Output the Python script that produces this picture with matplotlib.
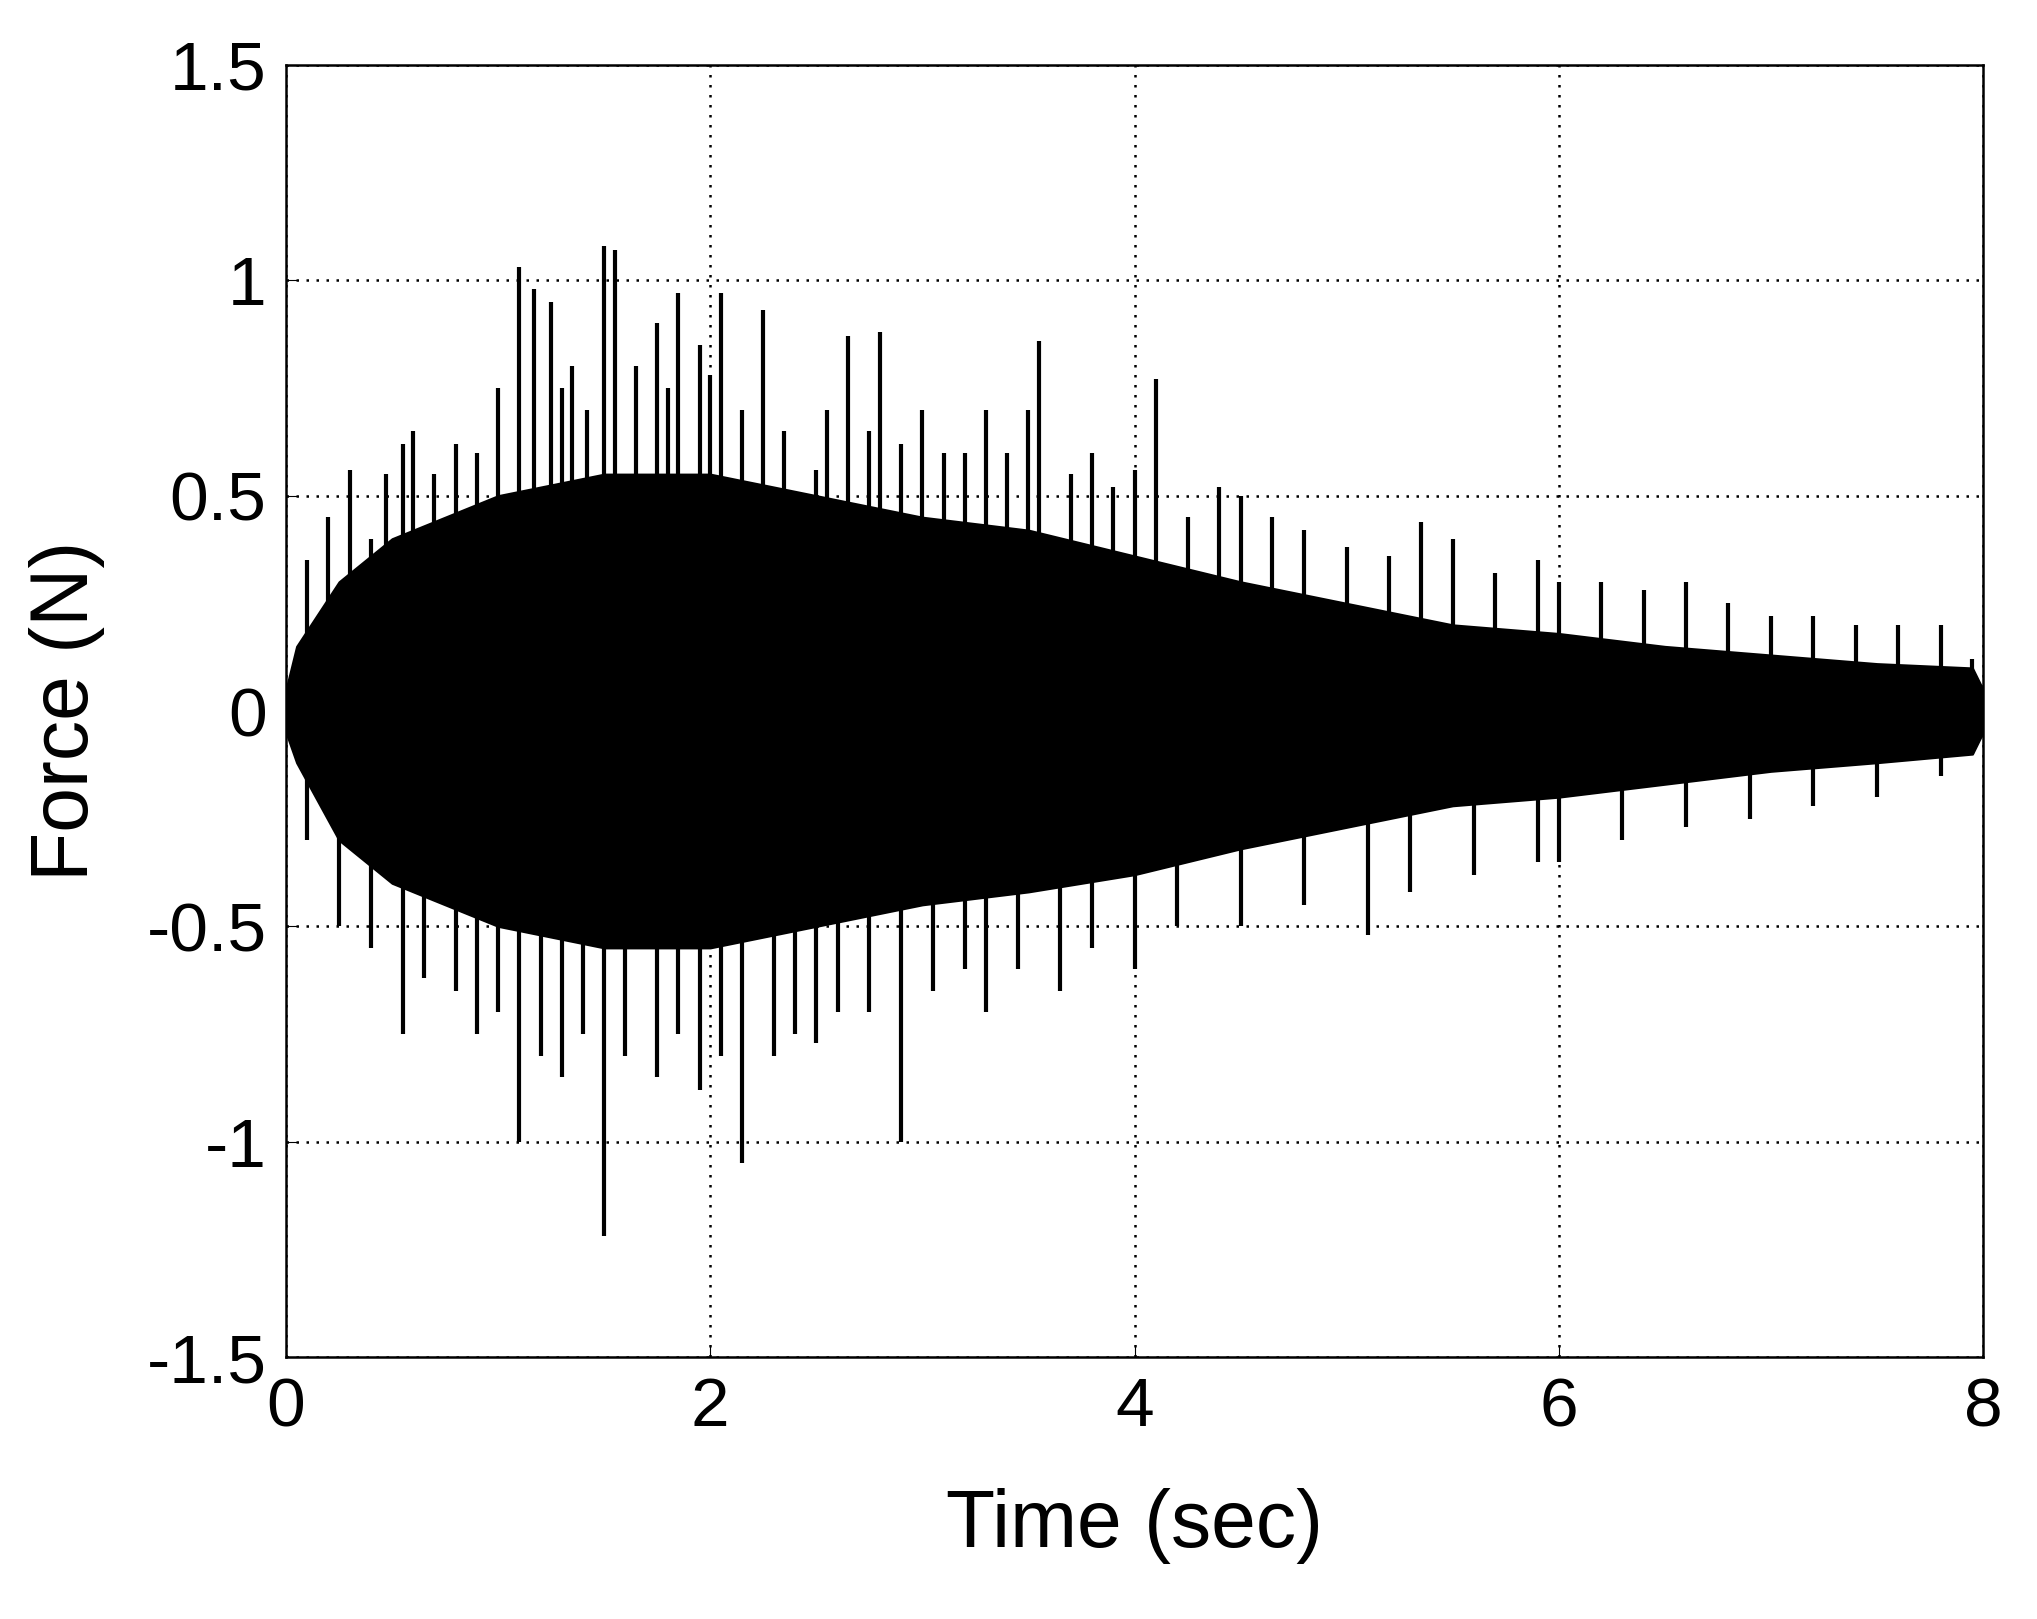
import matplotlib
matplotlib.use("Agg")
import matplotlib.pyplot as plt

plt.rcParams['font.family'] = ['Liberation Sans', 'DejaVu Sans']

# dense body envelope
env_t = [0, 0.05, 0.25, 0.5, 0.75, 1.0, 1.5, 2.0, 2.5, 3.0, 3.5, 4.0, 4.5, 5.0, 5.5, 6.0, 6.5, 7.0, 7.5, 7.95, 8.0]
env_up = [0.05, 0.15, 0.3, 0.4, 0.45, 0.5, 0.55, 0.55, 0.5, 0.45, 0.42, 0.36, 0.3, 0.25, 0.2, 0.18, 0.15, 0.13, 0.11, 0.1, 0.05]
env_lo = [-0.05, -0.12, -0.3, -0.4, -0.45, -0.5, -0.55, -0.55, -0.5, -0.45, -0.42, -0.38, -0.32, -0.27, -0.22, -0.2, -0.17, -0.14, -0.12, -0.1, -0.05]

# individual spikes
up_t = [0.1, 0.2, 0.3, 0.4, 0.47, 0.55, 0.6, 0.7, 0.8, 0.9, 1.0, 1.1, 1.17, 1.25, 1.3, 1.35, 1.42, 1.5, 1.55,
        1.65, 1.75, 1.8, 1.85, 1.95, 2.0, 2.05, 2.15, 2.25, 2.35, 2.5, 2.55, 2.65, 2.75, 2.8, 2.9, 3.0, 3.1,
        3.2, 3.3, 3.4, 3.5, 3.55, 3.7, 3.8, 3.9, 4.0, 4.1, 4.25, 4.4, 4.5, 4.65, 4.8, 5.0, 5.2, 5.35, 5.5,
        5.7, 5.9, 6.0, 6.2, 6.4, 6.6, 6.8, 7.0, 7.2, 7.4, 7.6, 7.8, 7.95]
up_v = [0.35, 0.45, 0.56, 0.4, 0.55, 0.62, 0.65, 0.55, 0.62, 0.6, 0.75, 1.03, 0.98, 0.95, 0.75, 0.8, 0.7, 1.08, 1.07,
        0.8, 0.9, 0.75, 0.97, 0.85, 0.78, 0.97, 0.7, 0.93, 0.65, 0.56, 0.7, 0.87, 0.65, 0.88, 0.62, 0.7, 0.6,
        0.6, 0.7, 0.6, 0.7, 0.86, 0.55, 0.6, 0.52, 0.56, 0.77, 0.45, 0.52, 0.5, 0.45, 0.42, 0.38, 0.36, 0.44, 0.4,
        0.32, 0.35, 0.3, 0.3, 0.28, 0.3, 0.25, 0.22, 0.22, 0.2, 0.2, 0.2, 0.12]
lo_t = [0.1, 0.25, 0.4, 0.55, 0.65, 0.8, 0.9, 1.0, 1.1, 1.2, 1.3, 1.4, 1.5, 1.6, 1.75, 1.85, 1.95, 2.05, 2.15,
        2.3, 2.4, 2.5, 2.6, 2.75, 2.9, 3.05, 3.2, 3.3, 3.45, 3.65, 3.8, 4.0, 4.2, 4.5, 4.8, 5.1, 5.3, 5.6,
        5.9, 6.0, 6.3, 6.6, 6.9, 7.2, 7.5, 7.8, 7.95]
lo_v = [-0.3, -0.5, -0.55, -0.75, -0.62, -0.65, -0.75, -0.7, -1.0, -0.8, -0.85, -0.75, -1.22, -0.8, -0.85, -0.75, -0.88, -0.8, -1.05,
        -0.8, -0.75, -0.77, -0.7, -0.7, -1.0, -0.65, -0.6, -0.7, -0.6, -0.65, -0.55, -0.6, -0.5, -0.5, -0.45, -0.52, -0.42, -0.38,
        -0.35, -0.35, -0.3, -0.27, -0.25, -0.22, -0.2, -0.15, -0.1]

x_ticks = [0, 2, 4, 6, 8]
y_ticks = [-1.5, -1, -0.5, 0, 0.5, 1, 1.5]
y_labels = ['-1.5', '-1', '-0.5', '0', '0.5', '1', '1.5']

fig = plt.figure(figsize=(20.37, 16.19), dpi=100)
L, R, T, B = 286, 1983, 65, 1357
ax = fig.add_axes([L/2037, 1 - B/1619, (R-L)/2037, (B-T)/1619])
ax.fill_between(env_t, env_lo, env_up, color='black', lw=1.5, zorder=3)
ax.vlines(up_t, 0, up_v, color='black', lw=3, zorder=3)
ax.vlines(lo_t, lo_v, 0, color='black', lw=3, zorder=3)
ax.set_xlim(0, 8)
ax.set_ylim(-1.5, 1.5)
ax.set_xticks(x_ticks)
ax.set_yticks(y_ticks)
ax.set_yticklabels(y_labels)
ax.grid(True, color='black', linestyle=(0, (1, 3)), lw=1.8)
ax.tick_params(labelsize=50, direction='in', length=8, pad=14)
for s in ax.spines.values():
    s.set_linewidth(1.8)
ax.set_xlabel('Time (sec)', fontsize=58, labelpad=34)
ax.set_ylabel('Force (N)', fontsize=58, labelpad=30)
fig.savefig('out.png', dpi=100)
